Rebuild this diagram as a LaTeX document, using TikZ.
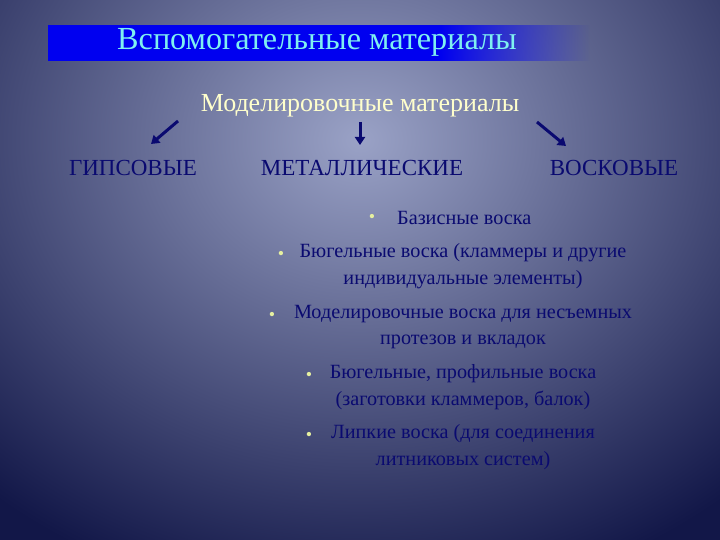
\documentclass[tikz,border=0pt]{standalone}
\usepackage{fontspec}
\setmainfont{Liberation Serif}
\usetikzlibrary{fadings,arrows.meta}
\definecolor{bgin}{HTML}{9AA2C6}
\definecolor{bgout}{HTML}{121748}
\definecolor{navy}{HTML}{0A0A70}
\definecolor{ttl}{HTML}{7FF0F0}
\definecolor{sub}{HTML}{FFFFCC}
\definecolor{bul}{HTML}{E6F0A0}
\tikzset{
  cat/.style={text=navy,font=\fontsize{23}{26}\selectfont,inner sep=0pt},
  item/.style={text=navy,font=\fontsize{20.2}{26.5}\selectfont,align=center,inner sep=0pt},
  dot/.style={text=bul,font=\fontsize{18}{18}\selectfont,inner sep=0pt},
  arr/.style={draw=navy,line width=3pt,-{Triangle[length=8pt,width=10pt]}}
}
\begin{document}
\begin{tikzpicture}[x=1pt,y=-1pt]
\useasboundingbox (0,0) rectangle (720,540);
\fill[bgout] (0,0) rectangle (720,540);
\shade[inner color=bgin,outer color=bgout] (360,140) ellipse (560 and 470);
\fill[blue!94!black] (48,25) rectangle (440,61);
\fill[blue!94!black,path fading=east] (440,25) rectangle (590,61);
\node[text=ttl,font=\fontsize{32.2}{34}\selectfont,inner sep=0pt] (title) at (317,42) {Вспомогательные материалы};
\node[text=sub,font=\fontsize{26}{28}\selectfont,inner sep=0pt] (sub) at (360,106) {Моделировочные материалы};
\node[cat] (gips) at (133,168) {ГИПСОВЫЕ};
\node[cat] (met) at (362,168) {МЕТАЛЛИЧЕСКИЕ};
\node[cat] (vosk) at (614,168) {ВОСКОВЫЕ};
\coordinate (a1) at (178,121); \coordinate (b1) at (151,144);
\coordinate (a2) at (360,122); \coordinate (b2) at (360,145);
\coordinate (a3) at (537,122); \coordinate (b3) at (566,146);
\draw[arr] (a1) -- (b1);
\draw[arr] (a2) -- (b2);
\draw[arr] (a3) -- (b3);
\node[dot] (d1) at (372,218) {•};
\node[item,anchor=west] (i1) at (397,218) {Базисные воска};
\node[dot] (d2) at (281,255) {•};
\node[item] (i2) at (463,266) {Бюгельные воска (кламмеры и другие\\индивидуальные элементы)};
\node[dot] (d3) at (272,316) {•};
\node[item] (i3) at (463,327) {Моделировочные воска для несъемных\\протезов и вкладок};
\node[dot] (d4) at (309,376) {•};
\node[item] (i4) at (463,387) {Бюгельные, профильные воска\\(заготовки кламмеров, балок)};
\node[dot] (d5) at (309,436) {•};
\node[item] (i5) at (463,447) {Липкие воска (для соединения\\литниковых систем)};
\end{tikzpicture}
\end{document}
